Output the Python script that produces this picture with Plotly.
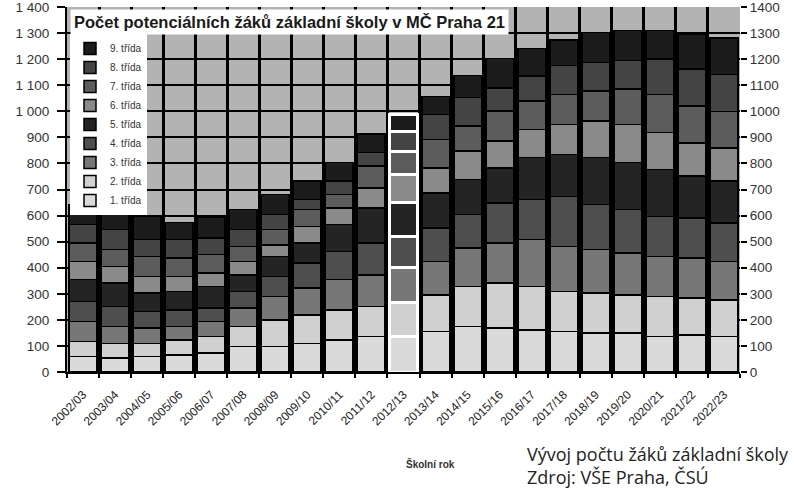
import plotly.graph_objects as go

years = ["2002/03", "2003/04", "2004/05", "2005/06", "2006/07", "2007/08", "2008/09",
         "2009/10", "2010/11", "2011/12", "2012/13", "2013/14", "2014/15", "2015/16",
         "2016/17", "2017/18", "2018/19", "2019/20", "2020/21", "2021/22", "2022/23"]

trida_1 = [59, 53, 59, 65, 72, 97, 97, 110, 123, 136, 136, 155, 174, 168, 162, 155, 149, 149, 136, 142, 136]
trida_2 = [58, 57, 51, 58, 64, 77, 103, 109, 115, 115, 131, 141, 154, 173, 166, 154, 154, 147, 154, 141, 141]
trida_3 = [76, 64, 58, 51, 57, 71, 90, 103, 116, 122, 135, 128, 148, 154, 180, 173, 166, 161, 153, 154, 147]
trida_4 = [77, 77, 64, 64, 52, 64, 77, 96, 109, 122, 118, 129, 128, 154, 154, 192, 173, 166, 154, 153, 148]
trida_5 = [84, 90, 71, 71, 83, 64, 76, 77, 102, 134, 129, 134, 134, 134, 160, 161, 180, 180, 180, 161, 160]
trida_6 = [70, 64, 64, 58, 51, 51, 45, 64, 64, 77, 109, 96, 109, 103, 109, 115, 141, 147, 141, 128, 128]
trida_7 = [71, 64, 76, 70, 71, 58, 58, 64, 52, 84, 89, 109, 97, 115, 109, 115, 115, 135, 147, 142, 140]
trida_8 = [70, 77, 65, 71, 64, 64, 58, 39, 51, 51, 75, 96, 108, 89, 96, 110, 109, 109, 135, 142, 141]
trida_9 = [77, 71, 88, 66, 78, 77, 77, 70, 71, 71, 66, 68, 86, 113, 105, 99, 115, 115, 109, 134, 141]

series_names = ["1. třída", "2. třída", "3. třída", "4. třída", "5. třída",
                "6. třída", "7. třída", "8. třída", "9. třída"]
series_values = [trida_1, trida_2, trida_3, trida_4, trida_5, trida_6, trida_7, trida_8, trida_9]
series_colors = ["#dadada", "#d0d0d0", "#777777", "#4e4e4e", "#242424",
                 "#8a8a8a", "#5c5c5c", "#444444", "#1c1c1c"]

y_ticks = [0, 100, 200, 300, 400, 500, 600, 700, 800, 900, 1000, 1100, 1200, 1300, 1400]
y_left_labels = ["0", "100", "200", "300", "400", "500", "600", "700", "800", "900",
                 "1 000", "1 100", "1 200", "1 300", "1 400"]
y_right_labels = ["0", "100", "200", "300", "400", "500", "600", "700", "800", "900",
                  "1000", "1100", "1200", "1300", "1400"]

chart_title = "Počet potenciálních žáků základní školy v MČ Praha 21"
x_title = "Školní rok"
caption_1 = "Vývoj počtu žáků základní školy"
caption_2 = "Zdroj: VŠE Praha, ČSÚ"

W, H = 794, 491
X0, X1, Y0, Y1 = 67, 740, 7, 372  # plot area in page pixels


def px(x):
    return (x - X0) / (X1 - X0)


def py(y):
    return (Y1 - y) / (Y1 - Y0)


highlight = "2012/13"
line_colors = ["white" if y == highlight else "black" for y in years]
line_widths = [3 if y == highlight else 1.5 for y in years]

fig = go.Figure()
for name, vals, col in zip(series_names, series_values, series_colors):
    fig.add_trace(go.Bar(
        x=years, y=vals, name=name,
        marker=dict(color=col, line=dict(color=line_colors, width=line_widths)),
    ))

# invisible trace for right axis
fig.add_trace(go.Scatter(x=years, y=[None] * len(years), yaxis="y2",
                         showlegend=False, hoverinfo="skip"))

fig.update_layout(
    width=W, height=H,
    barmode="stack", bargap=0.14,
    paper_bgcolor="white", plot_bgcolor="#b3b3b3",
    margin=dict(l=X0, r=W - X1, t=Y0, b=H - Y1, pad=0, autoexpand=False),
    font=dict(family="Liberation Sans", color="#222222", size=11),
    showlegend=True,
    legend=dict(
        traceorder="reversed", x=px(70), y=py(34), xanchor="left", yanchor="top",
        bgcolor="white", borderwidth=0, font=dict(size=10, color="#333333"),
        itemwidth=30, tracegroupgap=0,
    ),
    xaxis=dict(
        type="category", tickson="boundaries", showgrid=True, gridcolor="black",
        gridwidth=3, ticks="outside", ticklen=4, tickcolor="black", tickwidth=2,
        tickangle=-45, tickfont=dict(size=12, color="#222222"), automargin=False,
        ticklabelstandoff=9,
        showline=True, linecolor="black", linewidth=2,
    ),
    yaxis=dict(
        range=[0, 1400], tickvals=y_ticks, ticktext=y_left_labels,
        showgrid=True, gridcolor="black", gridwidth=2, zeroline=False,
        ticks="outside", ticklen=8, tickcolor="black", tickwidth=2,
        showline=True, linecolor="black", linewidth=2, automargin=False,
        ticklabeloverflow="allow", ticklabelstandoff=5,
        tickfont=dict(size=13.5, color="#333333"),
    ),
    yaxis2=dict(
        range=[0, 1400], tickvals=y_ticks, ticktext=y_right_labels,
        overlaying="y", side="right", showgrid=False, zeroline=False,
        ticks="outside", ticklen=6, tickcolor="black", tickwidth=2, automargin=False,
        ticklabeloverflow="allow",
        tickfont=dict(size=13.5, color="#333333"),
    ),
    annotations=[
        dict(text="<b>" + chart_title + "</b>", xref="paper", yref="paper",
             x=px(70), y=py(9), xanchor="left", yanchor="top", showarrow=False,
             bgcolor="white", borderpad=3, font=dict(size=16.5, color="#1a1a1a")),
        dict(text="<b>" + x_title + "</b>", xref="paper", yref="paper",
             x=px(430), y=py(464), xanchor="center", yanchor="middle", showarrow=False,
             font=dict(size=10, color="#333333")),
        dict(text=caption_1 + "<br>" + caption_2, xref="paper", yref="paper",
             x=px(525), y=py(465), xanchor="left", yanchor="middle", showarrow=False,
             align="left", font=dict(family="Open Sans", size=18, color="#222222")),
    ],
)

fig.write_html("out.html", config={"displayModeBar": False},
               post_script="document.body.style.margin='0';")
